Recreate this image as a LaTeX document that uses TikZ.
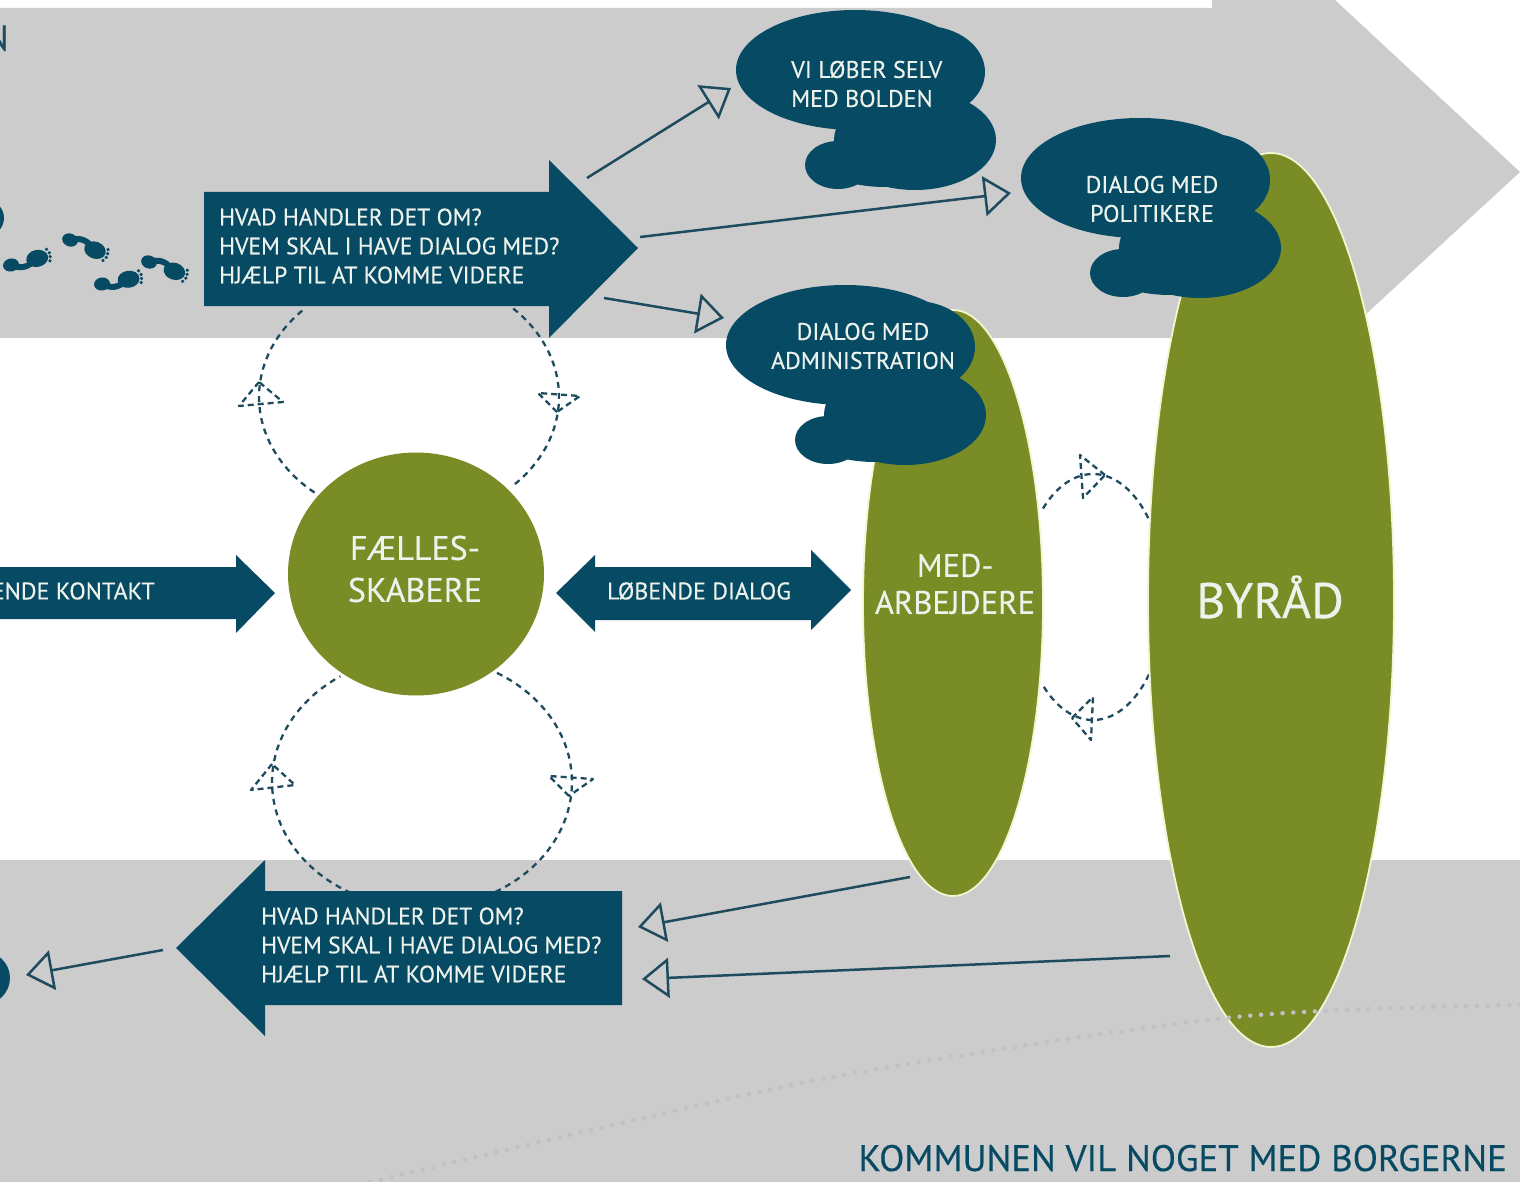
\documentclass[tikz,border=0pt]{standalone}
\usepackage{fontspec}
\setmainfont{PT Sans}[FakeBold=0.35]
\usetikzlibrary{arrows.meta,shapes.geometric}
\definecolor{band}{HTML}{CCCCCC}
\definecolor{petrol}{HTML}{074A63}
\definecolor{linec}{HTML}{1E4B5E}
\definecolor{olive}{HTML}{7A8C26}
\definecolor{cream}{HTML}{F2F5D0}
\definecolor{paper}{HTML}{EDF3EC}
\definecolor{dotc}{HTML}{C1C1C3}
\tikzset{
  x=1pt,y=-1pt,
  greenblob/.style={ellipse,fill=olive,draw=cream,line width=1.8pt,inner sep=0pt,text=paper,align=center},
  whitetext/.style={text=paper,align=left,inner sep=0pt,font=\fontsize{23.6}{29}\selectfont},
  cloudtext/.style={text=paper,align=center,inner sep=0pt,font=\fontsize{24}{29}\selectfont},
  openarrow/.style={draw=linec,line width=2.5pt,-{Triangle[open,length=27pt,width=40pt,line width=2.5pt]}},
  dashloop/.style={draw=linec,line width=2.3pt,dash pattern=on 6pt off 5pt},
  dashtip/.style={draw=linec,line width=2.3pt,dash pattern=on 6pt off 4pt,line join=round},
}
\newcommand{\cloudshape}[2]{%
  \begin{scope}[shift={(#1,#2)}]
    \fill[petrol] (855,70) ellipse [x radius=119,y radius=60];
    \fill[petrol] (925,72) ellipse [x radius=60,y radius=46];
    \fill[petrol] (915,140) ellipse [x radius=81,y radius=50];
    \fill[petrol] (885,160) ellipse [x radius=65,y radius=27];
    \fill[petrol] (838,165) ellipse [x radius=33,y radius=24];
  \end{scope}}
\newcommand{\footshape}[4]{%
  \begin{scope}[shift={(#1,#2)},rotate=#3,yscale=#4]
    \fill[petrol] (0,0) ellipse [x radius=8,y radius=6.5];
    \draw[petrol,line width=6pt] (0,0) .. controls (9,6) and (15,6) .. (25,0);
    \fill[petrol] (27,-1) ellipse [x radius=11,y radius=8.5];
    \foreach \a/\b in {38/-8,40/-4,40/0,39/4}{\fill[petrol] (\a,\b) circle [radius=1.8];}
  \end{scope}}
\newcommand{\arcloop}[6]{%
  \draw[dashloop] plot[domain=#5:#6,samples=40] ({#1+#2*cos(\x)},{#3+#4*sin(\x)});}
\begin{document}
\begin{tikzpicture}
\useasboundingbox (0,0) rectangle (1520,1182);
% grey bands
\fill[band] (0,8) -- (1212,8) -- (1212,0) -- (1335,0) -- (1520,172) -- (1340,338) -- (0,338) -- cycle;
\fill[band] (0,860) rectangle (1520,1182);
% dashed loops
\arcloop{409}{150}{397}{123}{129}{226}
\arcloop{409}{150}{397}{123}{-46}{47}
\arcloop{422}{150}{782}{126}{114}{237}
\arcloop{422}{150}{782}{126}{-60}{65}
\arcloop{1093}{72}{597}{123}{226}{321}
\arcloop{1093}{72}{597}{123}{39}{134}
\draw[dashtip] (259,382) -- (239,406) -- (283,402) -- cycle;
\draw[dashtip] (557,412) -- (538,393) -- (580,396) -- cycle;
\draw[dashtip] (272,764) -- (251,790) -- (295,785) -- cycle;
\draw[dashtip] (569,796) -- (549,776) -- (593,779) -- cycle;
\draw[dashtip] (1105,475) -- (1080,455) -- (1083,498) -- cycle;
\draw[dashtip] (1072,718) -- (1093,697) -- (1091,740) -- cycle;
% large block arrows
\fill[petrol] (204,192) -- (549,192) -- (549,160) -- (638,248) -- (549,338) -- (549,306) -- (204,306) -- cycle;
\fill[petrol] (622,891) -- (265,891) -- (265,860) -- (176,948) -- (265,1036) -- (265,1005) -- (622,1005) -- cycle;
\fill[petrol] (0,567) -- (236,567) -- (236,555) -- (275,593) -- (236,633) -- (236,619) -- (0,619) -- cycle;
\fill[petrol] (556,593) -- (595,555) -- (595,567) -- (811,567) -- (811,550) -- (851,590) -- (811,630) -- (811,620) -- (595,620) -- (595,632) -- cycle;
% partial shapes at left edge
\fill[petrol] (-14,218) ellipse [x radius=18,y radius=18];
\fill[petrol] (-18,978) ellipse [x radius=28,y radius=27];
% footprints
\footshape{11}{265}{12}{1}
\footshape{70}{240}{-20}{-1}
\footshape{102}{284}{8}{1}
\footshape{149}{262}{-18}{-1}
% green shapes
\node[greenblob,draw=none,minimum width=256pt,minimum height=243pt] (faelles) at (416,574) {};
\node[text=paper,inner sep=0pt,align=center,font=\fontsize{34}{42}\selectfont] (faellestext) at (415,569) {FÆLLES-\\SKABERE};
\node[greenblob,minimum width=180pt,minimum height=586pt] (med) at (953,603) {};
\node[text=paper,inner sep=0pt,align=center,font=\fontsize{32.6}{37}\selectfont] (medtext) at (955,584) {MED-\\ARBEJDERE};
\node[greenblob,minimum width=246pt,minimum height=894pt] (byraad) at (1271,600) {};
\node[text=paper,inner sep=0pt,font=\fontsize{50}{56}\selectfont] (byraadtext) at (1270,597) {BYRÅD};
% clouds
\cloudshape{0}{0}
\cloudshape{285}{108}
\cloudshape{-10}{275}
\node[cloudtext,align=left,anchor=west] (c1) at (791,84) {VI LØBER SELV\\MED BOLDEN};
\node[cloudtext] (c2) at (1152,199) {DIALOG MED\\POLITIKERE};
\node[cloudtext] (c3) at (863,346) {DIALOG MED\\ADMINISTRATION};
% text on arrows
\node[whitetext,anchor=west] (t1) at (219,246) {HVAD HANDLER DET OM?\\HVEM SKAL I HAVE DIALOG MED?\\HJÆLP TIL AT KOMME VIDERE};
\node[whitetext,anchor=west] (t2) at (261,945) {HVAD HANDLER DET OM?\\HVEM SKAL I HAVE DIALOG MED?\\HJÆLP TIL AT KOMME VIDERE};
\node[whitetext,anchor=east,font=\fontsize{24}{29}\selectfont] (t3) at (155,591) {ENDE KONTAKT};
\node[whitetext,anchor=center,font=\fontsize{24}{29}\selectfont] (t4) at (699,591) {LØBENDE DIALOG};
% corner text
\node[text=linec,inner sep=0pt,anchor=east,font=\fontsize{36}{40}\selectfont] (cornerN) at (9,38) {N};
\node[text=petrol,inner sep=0pt,anchor=base east,font=\fontsize{36.8}{40}\selectfont] (kommune) at (1507,1171) {KOMMUNEN VIL NOGET MED BORGERNE};
% thin open arrows
\coordinate (a1s) at (587,178); \coordinate (a1e) at (731,88);
\coordinate (a2s) at (640,237); \coordinate (a2e) at (1011,193);
\coordinate (a3s) at (604,298); \coordinate (a3e) at (724,318);
\coordinate (b1s) at (910,877); \coordinate (b1e) at (638,927);
\coordinate (b2s) at (1170,956); \coordinate (b2e) at (642,979);
\coordinate (b3s) at (163,950); \coordinate (b3e) at (26,975);
\draw[openarrow] (a1s) -- (a1e);
\draw[openarrow] (a2s) -- (a2e);
\draw[openarrow] (a3s) -- (a3e);
\draw[openarrow] (b1s) -- (b1e);
\draw[openarrow] (b2s) -- (b2e);
\draw[openarrow] (b3s) -- (b3e);
% dotted curve
\draw[dotc,line width=4.5pt,line cap=round,dash pattern=on 0pt off 10.8pt]
  plot[smooth,tension=0.5] coordinates {(1520,1005) (1235,1017) (860,1072) (613,1125) (370,1182)};
\end{tikzpicture}
\end{document}
